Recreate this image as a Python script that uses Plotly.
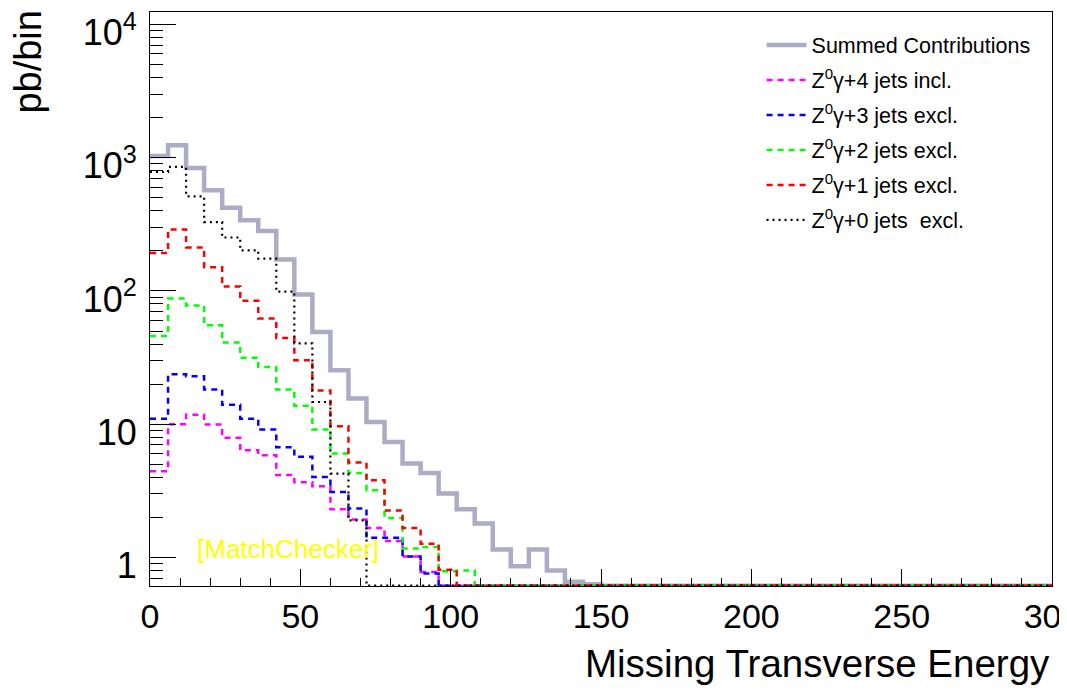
import numpy as np
import plotly.graph_objects as go

# ---- data (pb/bin), 50 bins of width 6 from 0 to 300 ----
bin_width = 6
n_bins = 50
x_tick_vals = [0, 50, 100, 150, 200, 250, 300]
y_tick_vals = [1, 10, 100, 1000, 10000]
y_tick_text = ["1", "10", "10<sup>2</sup>", "10<sup>3</sup>", "10<sup>4</sup>"]

summed = [1030, 1239, 837, 569, 422, 339, 282, 172, 94, 49.3, 25.4, 15.6, 10.4, 7.37,
          5.07, 4.31, 3.02, 2.30, 1.80, 1.15, 0.86, 1.15, 0.80, 0.66, 0.63]
jets4 = [4.44, 10.0, 11.8, 9.95, 7.94, 6.38, 5.85, 4.17, 3.67, 3.43, 2.30, 1.93, 1.67,
         1.33, 1.02, 0.78]
jets3 = [11.0, 23.7, 22.9, 18.2, 14.0, 11.0, 9.12, 6.72, 5.70, 4.02, 3.11, 2.33, 1.41,
         1.41, 1.02, 0.76]
jets2 = [46, 87.7, 77.7, 55.3, 41.0, 31.6, 26.9, 18.2, 13.8, 9.12, 6.03, 4.31, 3.20,
         1.98, 1.17, 1.20, 0.79, 0.80]
jets1 = [193, 289, 212, 151, 108, 84.4, 62.1, 44.4, 30.2, 17.9, 9.66, 5.16, 3.80, 2.26,
         1.67, 1.27, 0.81]
jets0 = [781, 852, 513, 329, 252, 202, 175, 99, 40.5, 14.7, 4.27, 1.90]

names = ["Summed Contributions",
         "Z<sup>0</sup>γ+4 jets incl.",
         "Z<sup>0</sup>γ+3 jets excl.",
         "Z<sup>0</sup>γ+2 jets excl.",
         "Z<sup>0</sup>γ+1 jets excl.",
         "Z<sup>0</sup>γ+0 jets\u00a0 excl."]

Y_LO, Y_HI = 0.612, 12390.0

def pad(v):
    return list(v) + [0.0] * (n_bins - len(v))

edges = np.arange(0, n_bins * bin_width + 1, bin_width)

def step(vals):
    v = np.array(pad(vals), dtype=float)
    v = np.maximum(v, Y_LO * 1.005)  # ROOT draws out-of-range bins on the frame bottom
    xs = np.concatenate([edges[:-1], [edges[-1]]])
    ys = np.concatenate([v, [v[-1]]])
    return xs, ys

series = [summed, jets4, jets3, jets2, jets1, jets0]
styles = [
    dict(color="rgb(172,172,199)", width=4.5, dash="solid"),
    dict(color="#ff00ff", width=2.5, dash="6px,5px"),
    dict(color="#0000ff", width=2.5, dash="6px,5px"),
    dict(color="#00ff00", width=2.5, dash="6px,5px"),
    dict(color="#ff0000", width=2.5, dash="6px,5px"),
    dict(color="#000000", width=2.2, dash="2px,4px"),
]

fig = go.Figure()
for i, (vals, nm, st) in enumerate(zip(series, names, styles)):
    xs, ys = step(vals)
    fig.add_trace(go.Scatter(x=xs, y=ys, mode="lines", name=nm, line=st,
                             line_shape="hv", legendgroup=f"g{i}"))

font = "Liberation Sans, Arial, sans-serif"
fig.update_layout(
    template="none",
    width=1067, height=692,
    margin=dict(l=142, r=23, t=4, b=114),
    paper_bgcolor="white", plot_bgcolor="white",
    font=dict(family=font, color="black"),
    showlegend=True,
    legend=dict(x=0.678, y=0.978, xanchor="left", yanchor="top",
                font=dict(size=21.5, family=font), bgcolor="rgba(0,0,0,0)",
                tracegroupgap=4, itemwidth=40),
    xaxis=dict(range=[0, 300], tickvals=x_tick_vals, ticks="inside", ticklen=17,
               tickwidth=1, tickcolor="black", showline=True, linecolor="black",
               linewidth=1, mirror=True, showgrid=False, zeroline=False,
               tickfont=dict(size=34, family=font), automargin=False,
               ticklabeloverflow="allow",
               minor=dict(dtick=10, ticks="inside", ticklen=8, tickcolor="black",
                          showgrid=False)),
    yaxis=dict(type="log", range=[np.log10(Y_LO), np.log10(Y_HI)],
               tickvals=y_tick_vals, ticktext=y_tick_text, ticks="inside",
               ticklen=26, tickwidth=1, tickcolor="black", showline=True,
               linecolor="black", linewidth=1, mirror=True, showgrid=False,
               zeroline=False, tickfont=dict(size=36, family=font),
               automargin=False, ticklabelstandoff=5, ticklabeloverflow="allow",
               ticklabelshift=8,
               minor=dict(dtick="D1", ticks="inside", ticklen=13, tickcolor="black",
                          showgrid=False)),
    annotations=[
        dict(text="pb/bin", xref="paper", yref="paper", x=-0.135, y=0.914,
             xanchor="center", yanchor="middle", textangle=-90, showarrow=False,
             font=dict(size=38, family=font)),
        dict(text="Missing Transverse Energy", xref="paper", yref="paper", x=1.0,
             y=-0.135, xanchor="right", yanchor="middle", showarrow=False,
             font=dict(size=38.5, family=font)),
        dict(text="[MatchChecker]", xref="paper", yref="paper", x=0.153, y=0.064,
             xanchor="center", yanchor="middle", showarrow=False,
             font=dict(size=26, family=font, color="#ffff00")),
    ],
)

fig.write_html("out.html")
